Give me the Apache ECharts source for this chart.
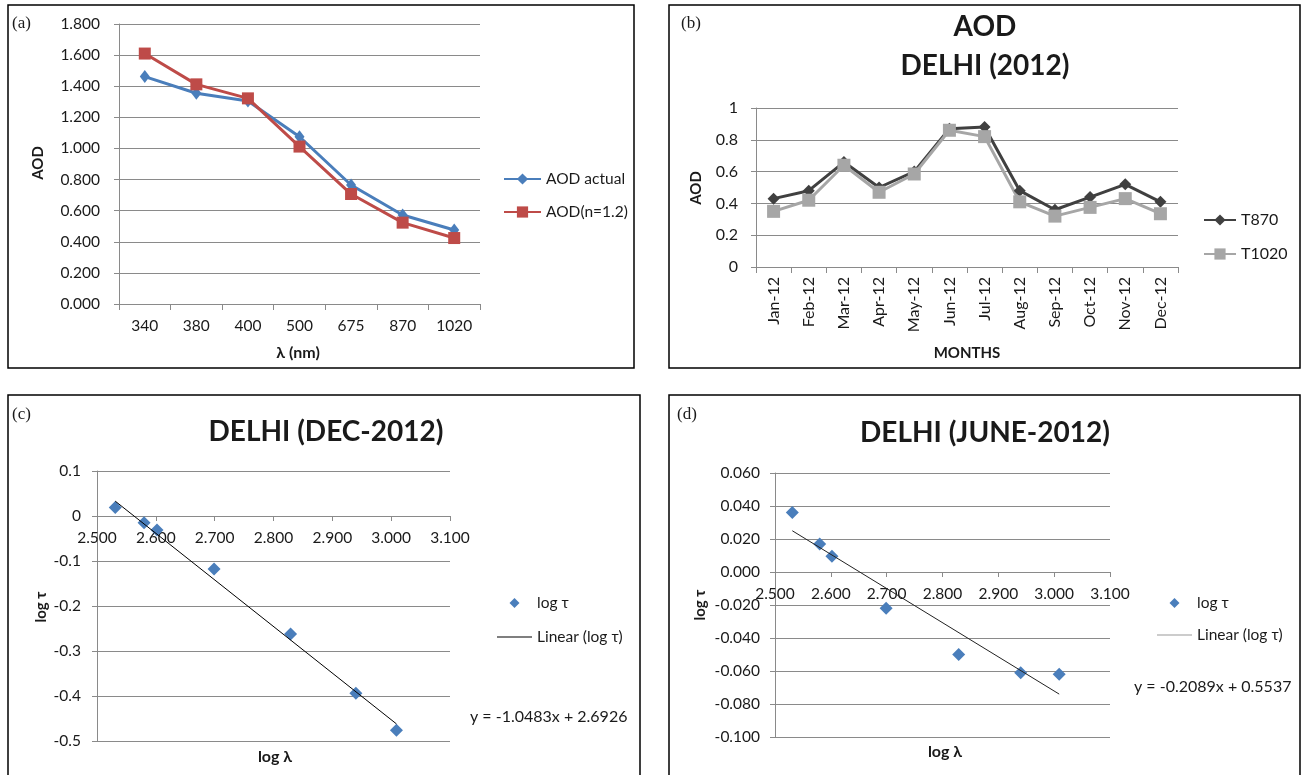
<!DOCTYPE html>
<html><head><meta charset="utf-8">
<script src="https://cdn.jsdelivr.net/npm/echarts@6/dist/echarts.min.js"></script>
<style>html,body{margin:0;padding:0;background:#fff}#c{width:1304px;height:775px}</style>
</head><body><div id="c"></div>
<script>
// ---- data ----
const wavelengths = ['340','380','400','500','675','870','1020'];
const aodActual = [1.462,1.355,1.305,1.075,0.765,0.572,0.476];
const aodN12 = [1.610,1.412,1.322,1.012,0.707,0.523,0.424];

const months = ['Jan-12','Feb-12','Mar-12','Apr-12','May-12','Jun-12','Jul-12','Aug-12','Sep-12','Oct-12','Nov-12','Dec-12'];
const t870 = [0.43,0.48,0.66,0.50,0.60,0.87,0.88,0.48,0.36,0.44,0.52,0.41];
const t1020 = [0.35,0.42,0.64,0.47,0.585,0.86,0.82,0.41,0.32,0.375,0.43,0.335];

const logLambda = [2.531,2.580,2.602,2.699,2.829,2.940,3.009];
const logTauDec = [0.019,-0.015,-0.031,-0.118,-0.262,-0.394,-0.476];
const logTauJun = [0.036,0.017,0.0095,-0.022,-0.050,-0.061,-0.062];
const trendDec = [[2.531,0.033],[3.009,-0.462]];
const trendJun = [[2.531,0.025],[3.009,-0.074]];

const yRangeA = [0, 1.8, 0.2];
const yRangeB = [0, 1, 0.2];
const xRangeCD = [2.5, 3.1, 0.1];
const yRangeC = [-0.5, 0.1, 0.1];
const yRangeD = [-0.1, 0.06, 0.02];

const eqDec = 'y = -1.0483x + 2.6926';
const eqJun = 'y = -0.2089x + 0.5537';

// ---- layout / styles ----
const gridC = { left: 97, top: 471, width: 353, height: 270 };
const gridD = { left: 775, top: 473, width: 335, height: 264 };
// place the x axis where y = 0 (axis line crosses at zero)
const zeroOffset = (g, r) => -g.height * (0 - r[0]) / (r[1] - r[0]);

const FONT = 'Lato, "Open Sans", sans-serif';
const GRID = '#8a8a8a';
const TXT = '#1a1a1a';
const BLUE = '#4A7EBB', RED = '#BE4B48', DARK = '#404040', LIGHT = '#A6A6A6';
const DIAMOND_ICON = 'path://M17.5,2L22.5,7L17.5,12L12.5,7ZM0,0L0,0M35,14L35,14';
const LINE_ICON = 'path://M0,6.4L35,6.4L35,7.6L0,7.6ZM0,0L0,0M35,14L35,14';

function lab(size, extra) {
  return Object.assign({ fontFamily: FONT, fontSize: size, color: TXT }, extra || {});
}
function valueAxis(range, idx, label, extra) {
  return Object.assign({
    type: 'value', gridIndex: idx, min: range[0], max: range[1], interval: range[2],
    axisLine: { show: true, lineStyle: { color: GRID, width: 1 } },
    axisTick: { show: true, length: 5, lineStyle: { color: GRID } },
    splitLine: { show: true, lineStyle: { color: GRID, width: 1 } },
    axisLabel: label
  }, extra || {});
}
function catAxis(data, idx, label) {
  return {
    type: 'category', gridIndex: idx, data: data, boundaryGap: true,
    axisLine: { show: true, lineStyle: { color: GRID, width: 1 } },
    axisTick: { show: true, length: 6, interval: 0, lineStyle: { color: GRID } },
    splitLine: { show: false },
    axisLabel: label
  };
}
function txt(x, y, text, font, opts) {
  opts = opts || {};
  const el = {
    type: 'text', x: x, y: y, z: 5,
    style: Object.assign({ text: text, font: font, fill: TXT, textAlign: 'center', textVerticalAlign: 'middle' }, opts.style || {})
  };
  if (opts.rotation) el.rotation = opts.rotation;
  return el;
}
function border(x1, y1, x2, y2) {
  return { type: 'rect', shape: { x: x1, y: y1, width: x2 - x1, height: y2 - y1 },
    style: { fill: 'none', stroke: '#000', lineWidth: 1.5 }, z: 10 };
}
const fmt3 = v => v.toFixed(3);
const fmtC = v => Math.abs(v) < 1e-9 ? '0' : String(+v.toFixed(1));
const fmtB = v => String(+v.toFixed(1));
const SERIF = '17px "Liberation Serif", serif';
const TITLE = 'bold 28px Lato, sans-serif';
const AXT = 'bold 15px Lato, sans-serif';
const AXT2 = 'bold 16px Lato, sans-serif';

const chart = echarts.init(document.getElementById('c'), null, { renderer: 'canvas' });
chart.setOption({
  backgroundColor: '#fff',
  animation: false,
  grid: [
    { left: 119, top: 24, width: 361, height: 280 },
    { left: 756, top: 108, width: 422, height: 159 },
    gridC,
    gridD
  ],
  xAxis: [
    catAxis(wavelengths, 0, lab(15.5, { interval: 0, margin: 14 })),
    catAxis(months, 1, lab(16, { interval: 0, rotate: 90, margin: 10 })),
    valueAxis(xRangeCD, 2, lab(15.5, { formatter: fmt3, margin: 14 }), {
      splitLine: { show: false }, offset: zeroOffset(gridC, yRangeC),
      axisLine: { show: true, onZero: false, lineStyle: { color: GRID, width: 1 } } }),
    valueAxis(xRangeCD, 3, lab(15.5, { formatter: fmt3, margin: 14 }), {
      splitLine: { show: false }, offset: zeroOffset(gridD, yRangeD),
      axisLine: { show: true, onZero: false, lineStyle: { color: GRID, width: 1 } } })
  ],
  yAxis: [
    valueAxis(yRangeA, 0, lab(15.5, { formatter: fmt3, margin: 19 })),
    valueAxis(yRangeB, 1, lab(16, { formatter: fmtB, margin: 18 })),
    valueAxis(yRangeC, 2, lab(15.5, { formatter: fmtC, margin: 16 })),
    valueAxis(yRangeD, 3, lab(15.5, { formatter: fmt3, margin: 15 }))
  ],
  legend: [
    { orient: 'vertical', left: 503, top: 171, padding: 0, itemWidth: 37, itemHeight: 14, itemGap: 17,
      textStyle: lab(15.5), data: ['AOD actual', 'AOD(n=1.2)'] },
    { orient: 'vertical', left: 1203, top: 212, padding: 0, itemWidth: 32, itemHeight: 14, itemGap: 18,
      textStyle: lab(16), data: ['T870', 'T1020'] },
    { orient: 'vertical', left: 497, top: 595, padding: 0, itemWidth: 35, itemHeight: 14, itemGap: 18,
      textStyle: lab(15.5), symbolKeepAspect: false,
      data: [{ name: 'log τ', icon: DIAMOND_ICON, itemStyle: { color: BLUE, opacity: 1 } },
             { name: 'Linear (log τ)', icon: LINE_ICON, itemStyle: { color: '#000' } }] },
    { orient: 'vertical', left: 1157, top: 595, padding: 0, itemWidth: 35, itemHeight: 14, itemGap: 16,
      textStyle: lab(15.5), symbolKeepAspect: false,
      data: [{ name: 'log τ', icon: DIAMOND_ICON, itemStyle: { color: BLUE, opacity: 1 } },
             { name: 'Linear (log τ)', icon: LINE_ICON, itemStyle: { color: '#9a9a9a' } }] }
  ],
  series: [
    { name: 'AOD actual', type: 'line', xAxisIndex: 0, yAxisIndex: 0, data: aodActual,
      symbol: 'diamond', symbolSize: [10, 13], lineStyle: { color: BLUE, width: 3 }, itemStyle: { color: BLUE } },
    { name: 'AOD(n=1.2)', type: 'line', xAxisIndex: 0, yAxisIndex: 0, data: aodN12,
      symbol: 'rect', symbolSize: 12, lineStyle: { color: RED, width: 3 }, itemStyle: { color: RED } },
    { name: 'T870', type: 'line', xAxisIndex: 1, yAxisIndex: 1, data: t870,
      symbol: 'diamond', symbolSize: 12, lineStyle: { color: DARK, width: 3 }, itemStyle: { color: DARK } },
    { name: 'T1020', type: 'line', xAxisIndex: 1, yAxisIndex: 1, data: t1020,
      symbol: 'rect', symbolSize: 13, lineStyle: { color: LIGHT, width: 3 }, itemStyle: { color: LIGHT } },
    { name: 'Linear (log τ)', type: 'line', xAxisIndex: 2, yAxisIndex: 2, data: trendDec,
      symbol: 'none', lineStyle: { color: '#000', width: 1 }, itemStyle: { color: '#000' } },
    { name: 'log τ', type: 'scatter', xAxisIndex: 2, yAxisIndex: 2,
      data: logLambda.map((x, i) => [x, logTauDec[i]]),
      symbol: 'diamond', symbolSize: 13, itemStyle: { color: BLUE, opacity: 1 } },
    { name: 'Linear (log τ)', type: 'line', xAxisIndex: 3, yAxisIndex: 3, data: trendJun,
      symbol: 'none', lineStyle: { color: '#222', width: 1 }, itemStyle: { color: '#222' } },
    { name: 'log τ', type: 'scatter', xAxisIndex: 3, yAxisIndex: 3,
      data: logLambda.map((x, i) => [x, logTauJun[i]]),
      symbol: 'diamond', symbolSize: 13, itemStyle: { color: BLUE, opacity: 1 } }
  ],
  graphic: [
    border(8, 5, 634, 368), border(669, 5, 1300, 368),
    border(8, 395, 640, 790), border(669, 395, 1300, 790),
    txt(12, 24, '(a)', SERIF, { style: { textAlign: 'left' } }),
    txt(681, 24, '(b)', SERIF, { style: { textAlign: 'left' } }),
    txt(12, 415, '(c)', SERIF, { style: { textAlign: 'left' } }),
    txt(677, 415, '(d)', SERIF, { style: { textAlign: 'left' } }),
    txt(985, 27, 'AOD', TITLE),
    txt(985, 66, 'DELHI (2012)', TITLE),
    txt(326, 432, 'DELHI (DEC-2012)', TITLE),
    txt(985, 433, 'DELHI (JUNE-2012)', TITLE),
    txt(38, 163, 'AOD', AXT, { rotation: Math.PI / 2 }),
    txt(298, 353, 'λ (nm)', AXT2),
    txt(696, 188, 'AOD', AXT, { rotation: Math.PI / 2 }),
    txt(967, 353, 'MONTHS', AXT),
    txt(41, 607, 'log τ', AXT, { rotation: Math.PI / 2 }),
    txt(275, 757, 'log λ', AXT2),
    txt(700, 605, 'log τ', AXT, { rotation: Math.PI / 2 }),
    txt(945, 752, 'log λ', AXT2),
    txt(470, 717, eqDec, '16px Lato, sans-serif', { style: { textAlign: 'left' } }),
    txt(1134, 687, eqJun, '16px Lato, sans-serif', { style: { textAlign: 'left' } })
  ]
});
</script>
</body></html>
